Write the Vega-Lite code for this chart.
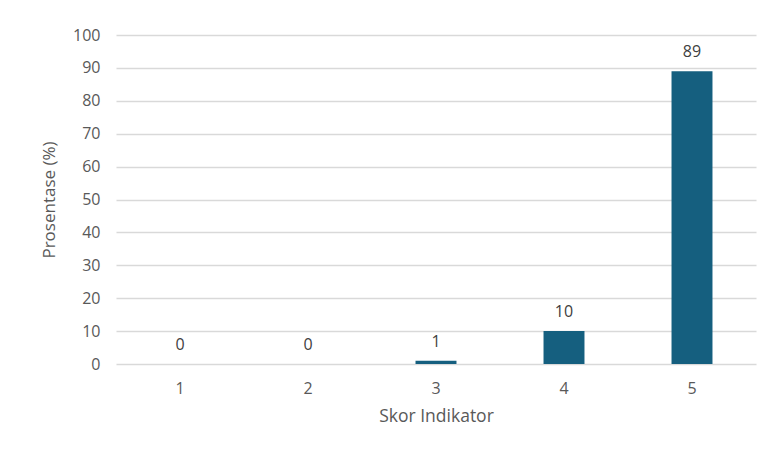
{
  "$schema": "https://vega.github.io/schema/vega-lite/v6.json",
  "width": 640,
  "height": 329,
  "autosize": {"type": "none"},
  "padding": {"left": 116, "top": 35, "right": 8, "bottom": 86},
  "background": "white",
  "config": {"view": {"stroke": null}, "font": "Open Sans"},
  "data": {"values": [
    {"skor": "1", "pct": 0},
    {"skor": "2", "pct": 0},
    {"skor": "3", "pct": 1},
    {"skor": "4", "pct": 10},
    {"skor": "5", "pct": 89}
  ]},
  "encoding": {
    "x": {"field": "skor", "type": "nominal", "sort": null,
      "scale": {"paddingInner": 0.68, "paddingOuter": 0.34},
      "axis": {"title": "Skor Indikator", "labelAngle": 0, "domain": false, "ticks": false,
        "labelPadding": 16, "labelFontSize": 16, "labelColor": "#595959",
        "titleFontSize": 17.5, "titleColor": "#595959", "titleFontWeight": "normal", "titlePadding": 11}},
    "y": {"field": "pct", "type": "quantitative",
      "scale": {"domain": [0, 100]},
      "axis": {"title": "Prosentase (%)", "values": [0,10,20,30,40,50,60,70,80,90,100],
        "domain": false, "ticks": false, "labelPadding": 16, "labelFontSize": 16, "labelColor": "#595959",
        "gridColor": "#d9d9d9", "gridWidth": 1.5,
        "titleFontSize": 17, "titleColor": "#595959", "titleFontWeight": "normal", "titlePadding": 14}}
  },
  "layer": [
    {"mark": {"type": "bar", "color": "#155f7f"}},
    {"mark": {"type": "text", "baseline": "alphabetic", "dy": -14, "fontSize": 16, "color": "#404040"},
      "encoding": {"text": {"field": "pct", "type": "quantitative"}}}
  ]
}
